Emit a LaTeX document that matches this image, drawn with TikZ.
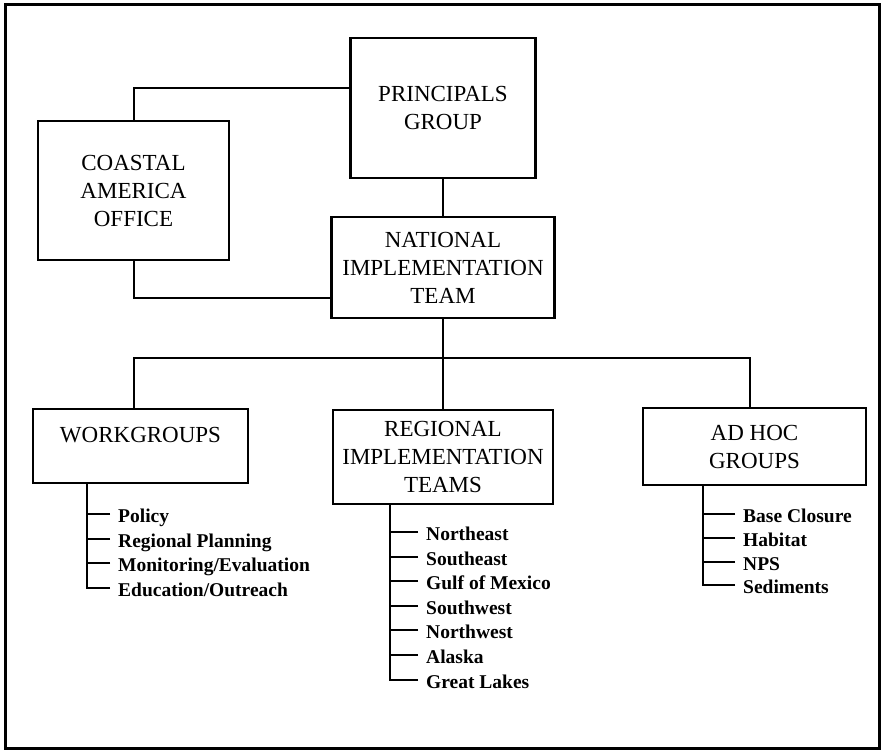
\documentclass[tikz,border=0pt]{standalone}
\usepackage{fontspec}
\setmainfont{Liberation Serif}
\begin{document}
\begin{tikzpicture}[x=1pt, y=-1pt,
	box/.style={draw, line width=2.2pt, align=center, inner sep=0pt, font=\fontsize{23}{28}\selectfont},
	item/.style={anchor=west, inner xsep=8pt, inner ysep=0pt, text height=17pt, text depth=0pt, font=\bfseries\fontsize{19.5}{23}\selectfont},
	link/.style={line width=2pt}]
	\useasboundingbox (0,0) rectangle (884,752);
	\draw[line width=3pt] (5,5) rectangle (879,748);
	% boxes
	\node[box, minimum width=185pt, minimum height=140pt] (princ) at (443,108) {PRINCIPALS\\GROUP};
	\node[box, minimum width=191pt, minimum height=139pt] (coast) at (133.5,190.5) {COASTAL\\AMERICA\\OFFICE};
	\node[box, minimum width=223pt, minimum height=101pt] (nit) at (443,267.5) {NATIONAL\\IMPLEMENTATION\\TEAM};
	\node[box, minimum width=215pt, minimum height=74pt, text height=16pt, text depth=24pt] (work) at (140.5,446) {WORKGROUPS};
	\node[box, minimum width=220pt, minimum height=94pt] (rit) at (443,457) {REGIONAL\\IMPLEMENTATION\\TEAMS};
	\node[box, minimum width=223pt, minimum height=77pt] (adhoc) at (754.5,446.5) {AD HOC\\GROUPS};
	% top links
	\draw[link] (coast) |- ([yshift=20pt]princ.west);
	\draw[link] (coast) |- ([yshift=-30pt]nit.west);
	\draw[link] (princ) -- (nit);
	\draw[link] (nit) -- (rit);
	\coordinate (busW) at (134,358);
	\coordinate (busE) at (750,358);
	\draw[link] (busW |- work.north) -- (busW) -- (busE) -- (busE |- adhoc.north);
	% lists
	\coordinate (wtop) at (87,483);
	\foreach \t [count=\i] in {Policy, Regional Planning, Monitoring/Evaluation, Education/Outreach}{
		\node[item] (w\i) at (110,514+24.6*\i-24.6) {\t};
		\draw[link] (w\i.west) -- (w\i.west -| wtop);
	}
	\draw[link] (wtop) |- (w4.west);
	\coordinate (rtop) at (390,504);
	\foreach \t [count=\i] in {Northeast, Southeast, Gulf of Mexico, Southwest, Northwest, Alaska, Great Lakes}{
		\node[item] (r\i) at (418,532+24.6*\i-24.6) {\t};
		\draw[link] (r\i.west) -- (r\i.west -| rtop);
	}
	\draw[link] (rtop) |- (r7.west);
	\coordinate (atop) at (703,485);
	\foreach \t [count=\i] in {Base Closure, Habitat, NPS, Sediments}{
		\node[item] (a\i) at (735,514+23.8*\i-23.8) {\t};
		\draw[link] (a\i.west) -- (a\i.west -| atop);
	}
	\draw[link] (atop) |- (a4.west);
\end{tikzpicture}
\end{document}
